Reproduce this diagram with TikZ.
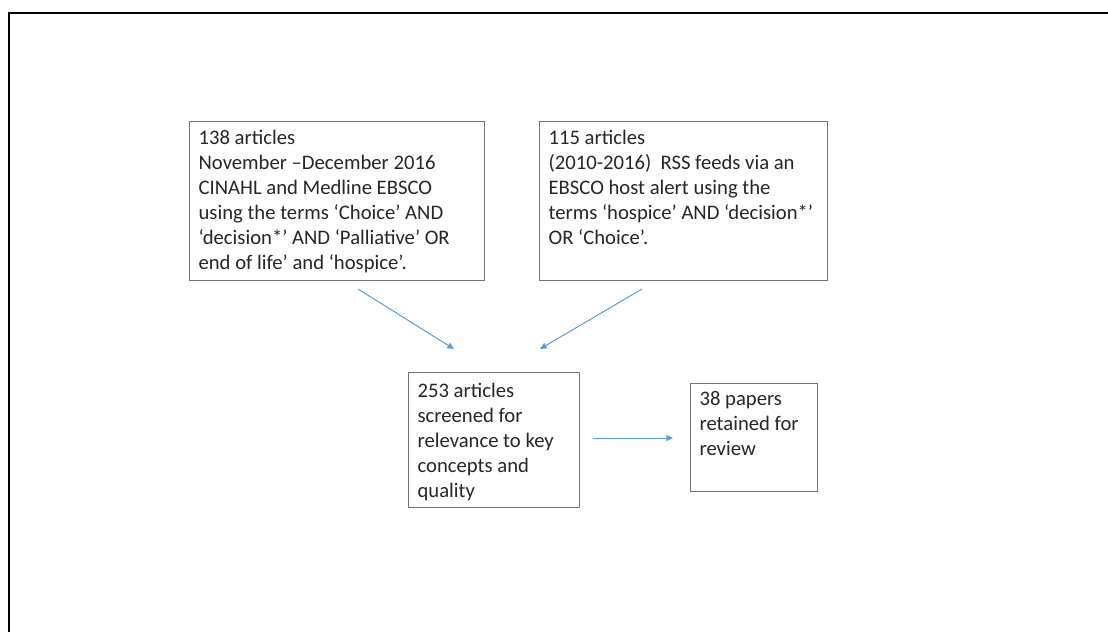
\documentclass[tikz,border=0pt]{standalone}
\usepackage{fontspec}
\setmainfont{Carlito}
\usepackage{tikz}
\usetikzlibrary{arrows.meta}
\definecolor{arrowblue}{RGB}{91,155,213}
\definecolor{boxgray}{RGB}{118,118,118}

\begin{document}
\begin{tikzpicture}[x=0.75pt,y=-0.75pt,
			mybox/.style={draw=boxgray, line width=0.9pt, anchor=north west, align=flush left, inner xsep=6.75pt, inner ysep=0pt, font=\fontsize{15.5}{18.75}\selectfont, text=black!85},
			myarrow/.style={-{Triangle[length=5pt,width=4.5pt]}, line width=0.75pt, color=arrowblue}
		]
		\useasboundingbox (0,0) rectangle (1108,632);
		\draw[line width=1pt] (9,632) -- (9,13) -- (1108,13);

		\node[mybox, text width=207.75pt, text height=17pt, text depth=102.25pt] (ebsco) at (189,121) {138 articles\\November –December 2016\\CINAHL and Medline EBSCO\\using the terms ‘Choice’ AND\\‘decision*’ AND ‘Palliative’ OR\\end of life’ and ‘hospice’.};
		\node[mybox, text width=202.5pt, text height=17pt, text depth=102.25pt] (rss) at (539,121) {115 articles\\(2010-2016)~ RSS feeds via an\\EBSCO host alert using the\\terms ‘hospice’ AND ‘decision*’\\OR ‘Choice’.};
		\node[mybox, text width=114.75pt, text height=18.5pt, text depth=82.75pt] (screened) at (408,372) {253 articles\\screened for\\relevance to key\\concepts and\\quality};
		\node[mybox, text width=81.75pt, text height=16.5pt, text depth=64.5pt] (retained) at (690,383) {38 papers\\retained for\\review};

		\coordinate (ebsco-out) at (358,289);
		\coordinate (rss-out) at (642,289);
		\coordinate (screened-in1) at (454,349);
		\coordinate (screened-in2) at (540,349);
		\coordinate (screened-out) at (593,438);
		\coordinate (retained-in) at (673,438);

		\draw[myarrow] (ebsco-out) -- (screened-in1);
		\draw[myarrow] (rss-out) -- (screened-in2);
		\draw[myarrow] (screened-out) -- (retained-in);

	\end{tikzpicture}
\end{document}
